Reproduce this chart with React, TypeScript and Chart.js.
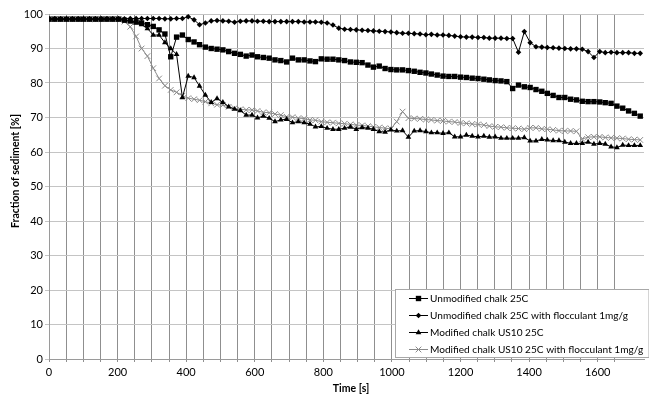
import React, { useEffect, useRef } from 'react';
import { Chart, registerables } from 'chart.js';

Chart.register(...registerables);

// Time [s]
const times = [
  0, 17, 34, 51, 68, 85, 101, 118, 135, 152,
  169, 186, 203, 220, 237, 254, 270, 287, 304, 321,
  338, 355, 372, 389, 406, 423, 439, 456, 473, 490,
  507, 524, 541, 558, 575, 592, 608, 625, 642, 659,
  676, 693, 710, 727, 744, 761, 777, 794, 811, 828,
  845, 862, 879, 896, 913, 930, 946, 963, 980, 997,
  1014, 1031, 1048, 1065, 1082, 1099, 1115, 1132, 1149, 1166,
  1183, 1200, 1217, 1234, 1251, 1268, 1284, 1301, 1318, 1335,
  1352, 1369, 1386, 1403, 1420, 1437, 1453, 1470, 1487, 1504,
  1521, 1538, 1555, 1572, 1589, 1606, 1622, 1639, 1656, 1673,
  1690, 1707, 1724,
];

// Unmodified chalk 25C
const unmodified = [
  98.5, 98.5, 98.5, 98.5, 98.5, 98.5, 98.5, 98.5, 98.5, 98.5,
  98.5, 98.5, 98.5, 98.2, 98.0, 97.7, 97.4, 96.9, 96.4, 95.4,
  94.2, 87.6, 93.3, 93.9, 92.6, 91.9, 91.1, 90.4, 90.0, 89.8,
  89.6, 89.1, 88.6, 88.3, 87.8, 88.1, 87.6, 87.4, 87.2, 86.7,
  86.5, 86.1, 87.2, 86.7, 86.7, 86.4, 86.2, 87.0, 86.9, 86.9,
  86.7, 86.5, 86.1, 86.0, 85.9, 85.2, 84.6, 84.9, 84.2, 83.9,
  83.8, 83.8, 83.6, 83.4, 83.1, 82.9, 82.6, 82.3, 82.0, 81.9,
  81.9, 81.7, 81.6, 81.4, 81.3, 81.1, 80.9, 80.7, 80.6, 80.4,
  78.4, 79.4, 78.9, 78.7, 78.1, 77.6, 77.0, 76.4, 75.8, 75.8,
  75.3, 75.1, 74.7, 74.6, 74.6, 74.5, 74.3, 74.1, 73.3, 72.7,
  71.9, 71.2, 70.4,
];

// Unmodified chalk 25C with flocculant 1mg/g
const unmodifiedFloc = [
  98.6, 98.6, 98.6, 98.6, 98.6, 98.6, 98.6, 98.6, 98.6, 98.6,
  98.6, 98.6, 98.6, 98.6, 98.7, 98.7, 98.7, 98.7, 98.7, 98.7,
  98.6, 98.6, 98.7, 98.7, 99.2, 98.3, 96.9, 97.4, 98.0, 98.1,
  98.0, 97.9, 97.6, 97.9, 98.0, 98.0, 97.9, 97.9, 97.8, 97.8,
  97.8, 97.8, 97.8, 97.8, 97.7, 97.7, 97.7, 97.6, 97.4, 96.8,
  95.9, 95.6, 95.5, 95.4, 95.3, 95.2, 95.1, 95.0, 94.9, 94.8,
  94.6, 94.4, 94.4, 94.3, 94.2, 94.0, 94.1, 93.9, 93.9, 93.8,
  93.6, 93.4, 93.3, 93.3, 93.2, 93.2, 93.0, 93.0, 93.0, 92.9,
  92.9, 88.9, 94.9, 91.7, 90.5, 90.4, 90.3, 90.2, 90.1, 90.0,
  89.9, 89.9, 89.8, 89.1, 87.4, 89.1, 88.8, 88.9, 88.8, 88.8,
  88.8, 88.6, 88.6,
];

// Modified chalk US10 25C
const modified = [
  98.5, 98.5, 98.5, 98.5, 98.5, 98.5, 98.5, 98.5, 98.5, 98.5,
  98.5, 98.5, 98.5, 98.2, 97.8, 97.4, 96.9, 95.8, 93.9, 93.9,
  91.7, 90.0, 88.3, 75.8, 82.0, 81.6, 79.1, 76.5, 74.4, 75.5,
  74.4, 73.1, 72.4, 72.0, 70.7, 70.7, 69.9, 70.4, 69.8, 68.8,
  69.3, 69.5, 68.5, 68.8, 68.5, 68.1, 67.3, 67.4, 66.9, 66.6,
  66.6, 66.9, 67.2, 66.6, 67.1, 66.9, 66.6, 65.9, 65.8, 66.4,
  66.1, 66.2, 64.3, 66.1, 66.2, 65.9, 65.6, 65.6, 65.4, 65.6,
  64.4, 64.4, 64.9, 64.6, 64.4, 64.6, 64.3, 64.4, 64.0, 64.0,
  64.0, 64.0, 64.2, 63.2, 63.2, 63.7, 63.5, 63.3, 63.3, 62.9,
  62.5, 62.5, 62.5, 62.9, 62.3, 62.5, 62.3, 61.5, 61.3, 62.0,
  61.9, 61.9, 61.9,
];

// Modified chalk US10 25C with flocculant 1mg/g
const modifiedFloc = [
  98.5, 98.5, 98.5, 98.5, 98.5, 98.5, 98.5, 98.5, 98.5, 98.5,
  98.5, 98.5, 98.5, 97.8, 96.3, 93.5, 90.0, 87.8, 84.3, 81.3,
  79.2, 78.0, 77.3, 76.3, 75.6, 75.3, 75.0, 74.6, 74.1, 73.7,
  73.6, 73.1, 72.7, 72.4, 72.2, 72.2, 71.9, 71.5, 71.4, 71.0,
  70.7, 70.2, 70.1, 69.8, 69.7, 69.3, 69.2, 68.8, 68.6, 68.5,
  68.3, 68.2, 68.0, 67.8, 67.7, 67.5, 67.3, 67.1, 66.9, 66.7,
  68.8, 71.7, 69.8, 69.7, 69.6, 69.4, 69.3, 69.1, 69.0, 68.8,
  68.7, 68.4, 68.3, 68.1, 68.0, 67.8, 67.5, 67.3, 67.2, 67.0,
  66.9, 66.8, 66.6, 67.0, 67.0, 66.7, 66.6, 66.4, 66.2, 66.1,
  66.1, 66.0, 63.8, 64.3, 64.4, 64.4, 64.2, 64.1, 64.0, 63.9,
  63.7, 63.6, 63.5,
];

const seriesLabels = [
  'Unmodified chalk 25C',
  'Unmodified chalk 25C with flocculant 1mg/g',
  'Modified chalk US10 25C',
  'Modified chalk US10 25C with flocculant 1mg/g',
];

const xTickLabels = [0, 200, 400, 600, 800, 1000, 1200, 1400, 1600];
const xTitle = 'Time [s]';
const yTitle = 'Fraction of sediment [%]';

const FONT = 'Lato, "Liberation Sans", sans-serif';

function drawMarker(ctx: CanvasRenderingContext2D, style: string, x: number, y: number, r: number, color: string) {
  ctx.save();
  ctx.fillStyle = color;
  ctx.strokeStyle = color;
  ctx.lineWidth = 1;
  ctx.beginPath();
  if (style === 'rect') {
    const s = r * Math.SQRT1_2;
    ctx.rect(x - s, y - s, 2 * s, 2 * s);
    ctx.fill();
  } else if (style === 'rectRot') {
    ctx.moveTo(x, y - r);
    ctx.lineTo(x + r, y);
    ctx.lineTo(x, y + r);
    ctx.lineTo(x - r, y);
    ctx.closePath();
    ctx.fill();
  } else if (style === 'triangle') {
    let a = 0;
    ctx.moveTo(x + Math.sin(a) * r, y - Math.cos(a) * r);
    a += (2 * Math.PI) / 3;
    ctx.lineTo(x + Math.sin(a) * r, y - Math.cos(a) * r);
    a += (2 * Math.PI) / 3;
    ctx.lineTo(x + Math.sin(a) * r, y - Math.cos(a) * r);
    ctx.closePath();
    ctx.fill();
  } else {
    const d = r * Math.SQRT1_2;
    ctx.moveTo(x - d, y - d);
    ctx.lineTo(x + d, y + d);
    ctx.moveTo(x + d, y - d);
    ctx.lineTo(x - d, y + d);
    ctx.stroke();
  }
  ctx.restore();
}

const boxLegend = {
  id: 'boxLegend',
  afterDraw(chart: any) {
    const ctx: CanvasRenderingContext2D = chart.ctx;
    const area = chart.chartArea;
    const left = 395.5;
    const top = 289.5;
    const bottom = 357.5;
    const right = area.right + 5;
    ctx.save();
    ctx.fillStyle = '#ffffff';
    ctx.fillRect(left, top, right - left, bottom - top);
    ctx.strokeStyle = '#a8a8a8';
    ctx.lineWidth = 1;
    ctx.strokeRect(left, top, right - left, bottom - top);
    ctx.font = `10.1px ${FONT}`;
    ctx.textBaseline = 'middle';
    ctx.textAlign = 'left';
    chart.data.datasets.forEach((ds: any, i: number) => {
      const y = 298.5 + i * 17;
      ctx.strokeStyle = ds.borderColor;
      ctx.lineWidth = 1;
      ctx.beginPath();
      ctx.moveTo(409, y);
      ctx.lineTo(428, y);
      ctx.stroke();
      const col = ds.pointStyle === 'crossRot' ? ds.pointBorderColor : ds.pointBackgroundColor;
      drawMarker(ctx, ds.pointStyle, 418.5, y, ds.pointRadius, col);
      ctx.fillStyle = '#000';
      ctx.fillText(ds.label, 430, y + 0.5);
    });
    ctx.restore();
  },
};

const axisTitles = {
  id: 'axisTitles',
  afterDraw(chart: any) {
    const ctx: CanvasRenderingContext2D = chart.ctx;
    ctx.save();
    ctx.fillStyle = '#000';
    ctx.font = `bold 10.5px ${FONT}`;
    ctx.textAlign = 'center';
    ctx.textBaseline = 'middle';
    ctx.fillText(xTitle, 351, 389);
    ctx.translate(16, 171);
    ctx.rotate(-Math.PI / 2);
    ctx.fillText(yTitle, 0, 0);
    ctx.restore();
  },
};

export default function App() {
  const ref = useRef<HTMLCanvasElement | null>(null);
  useEffect(() => {
    document.body.style.margin = '0';
    const canvas = ref.current;
    if (!canvas) return;
    const mk = (vals: number[]) => times.map((t, i) => ({ x: t, y: vals[i] }));
    const chart = new Chart(canvas, {
      type: 'scatter',
      data: {
        datasets: [
          {
            label: seriesLabels[0], data: mk(unmodified), showLine: true,
            borderColor: '#000', borderWidth: 1, pointStyle: 'rect', pointRadius: 3.8,
            pointBackgroundColor: '#000', pointBorderColor: '#000', pointBorderWidth: 0,
          },
          {
            label: seriesLabels[1], data: mk(unmodifiedFloc), showLine: true,
            borderColor: '#000', borderWidth: 1, pointStyle: 'rectRot', pointRadius: 2.8,
            pointBackgroundColor: '#000', pointBorderColor: '#000', pointBorderWidth: 0,
          },
          {
            label: seriesLabels[2], data: mk(modified), showLine: true,
            borderColor: '#000', borderWidth: 1, pointStyle: 'triangle', pointRadius: 3.3,
            pointBackgroundColor: '#000', pointBorderColor: '#000', pointBorderWidth: 0,
          },
          {
            label: seriesLabels[3], data: mk(modifiedFloc), showLine: true,
            borderColor: '#8a8a8a', borderWidth: 1, pointStyle: 'crossRot', pointRadius: 4,
            pointBackgroundColor: '#8a8a8a', pointBorderColor: '#8a8a8a', pointBorderWidth: 1,
          },
        ] as any,
      },
      options: {
        responsive: false,
        animation: false,
        events: [],
        layout: { padding: { top: 14, right: 1, left: 0, bottom: 0 } },
        plugins: { legend: { display: false }, tooltip: { enabled: false } },
        scales: {
          x: {
            type: 'linear',
            min: 0,
            max: 1735,
            ticks: {
              stepSize: 50,
              autoSkip: false,
              maxRotation: 0,
              padding: 4,
              color: '#000',
              font: { family: FONT, size: 11 },
              callback: (v: any) => (xTickLabels.includes(Number(v)) ? String(v) : ''),
            },
            grid: {
              color: (c: any) => (c.tick && c.tick.value % 50 === 0 ? '#8f8f8f' : 'rgba(0,0,0,0)'),
              lineWidth: 1,
              tickLength: 3,
            },
            border: { color: '#9a9a9a' },
            afterFit: (s: any) => { s.height = 35; },
          },
          y: {
            min: 0,
            max: 100,
            ticks: {
              stepSize: 10,
              padding: 2,
              color: '#000',
              font: { family: FONT, size: 11 },
            },
            grid: { color: '#c4c4c4', lineWidth: 1, tickLength: 4 },
            border: { color: '#9a9a9a' },
            afterFit: (s: any) => { s.width = 49; },
          },
        },
      } as any,
      plugins: [boxLegend, axisTitles],
    });
    return () => chart.destroy();
  }, []);
  return <canvas ref={ref} width={649} height={394} style={{ display: 'block' }} />;
}
